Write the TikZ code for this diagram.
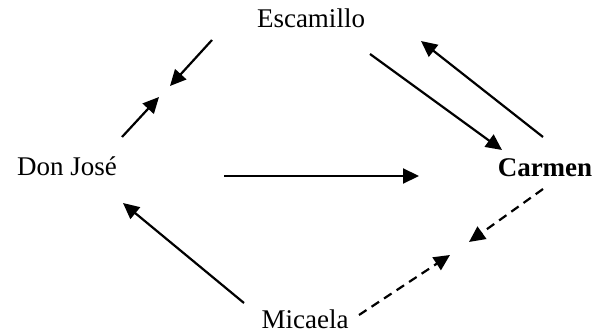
\documentclass[tikz,border=0pt]{standalone}
\usepackage{fontspec}
\setmainfont{Liberation Serif}
\usetikzlibrary{arrows.meta}
\begin{document}
\begin{tikzpicture}[x=1pt,y=-1pt,
  lbl/.style={inner sep=0pt,anchor=base,font=\fontsize{27}{31}\selectfont},
  arr/.style={line width=2.2pt,-{Triangle[length=16pt,width=15pt]}},
  darr/.style={arr,dash pattern=on 9pt off 6pt}]
\useasboundingbox (0,0) rectangle (595,334);
\node[lbl] (esc) at (311,28) {Escamillo};
\node[lbl] (jose) at (67,176) {Don José};
\node[lbl,font=\fontsize{27}{31}\selectfont\bfseries] (carmen) at (545,177) {Carmen};
\node[lbl] (mic) at (305,328) {Micaela};
\coordinate (a1s) at (212,40);  \coordinate (a1e) at (170,86);
\coordinate (a2s) at (122,137); \coordinate (a2e) at (159,97);
\coordinate (a3s) at (224,176); \coordinate (a3e) at (419,176);
\coordinate (a4s) at (370,54);  \coordinate (a4e) at (502,150);
\coordinate (a5s) at (543,137); \coordinate (a5e) at (421,41);
\coordinate (a6s) at (543,189); \coordinate (a6e) at (469,242);
\coordinate (a7s) at (244,303); \coordinate (a7e) at (123,203);
\coordinate (a8s) at (359,315); \coordinate (a8e) at (450,255);
\draw[arr] (a1s) -- (a1e);
\draw[arr] (a2s) -- (a2e);
\draw[arr] (a3s) -- (a3e);
\draw[arr] (a4s) -- (a4e);
\draw[arr] (a5s) -- (a5e);
\draw[darr] (a6s) -- (a6e);
\draw[arr] (a7s) -- (a7e);
\draw[darr] (a8s) -- (a8e);
\end{tikzpicture}
\end{document}
